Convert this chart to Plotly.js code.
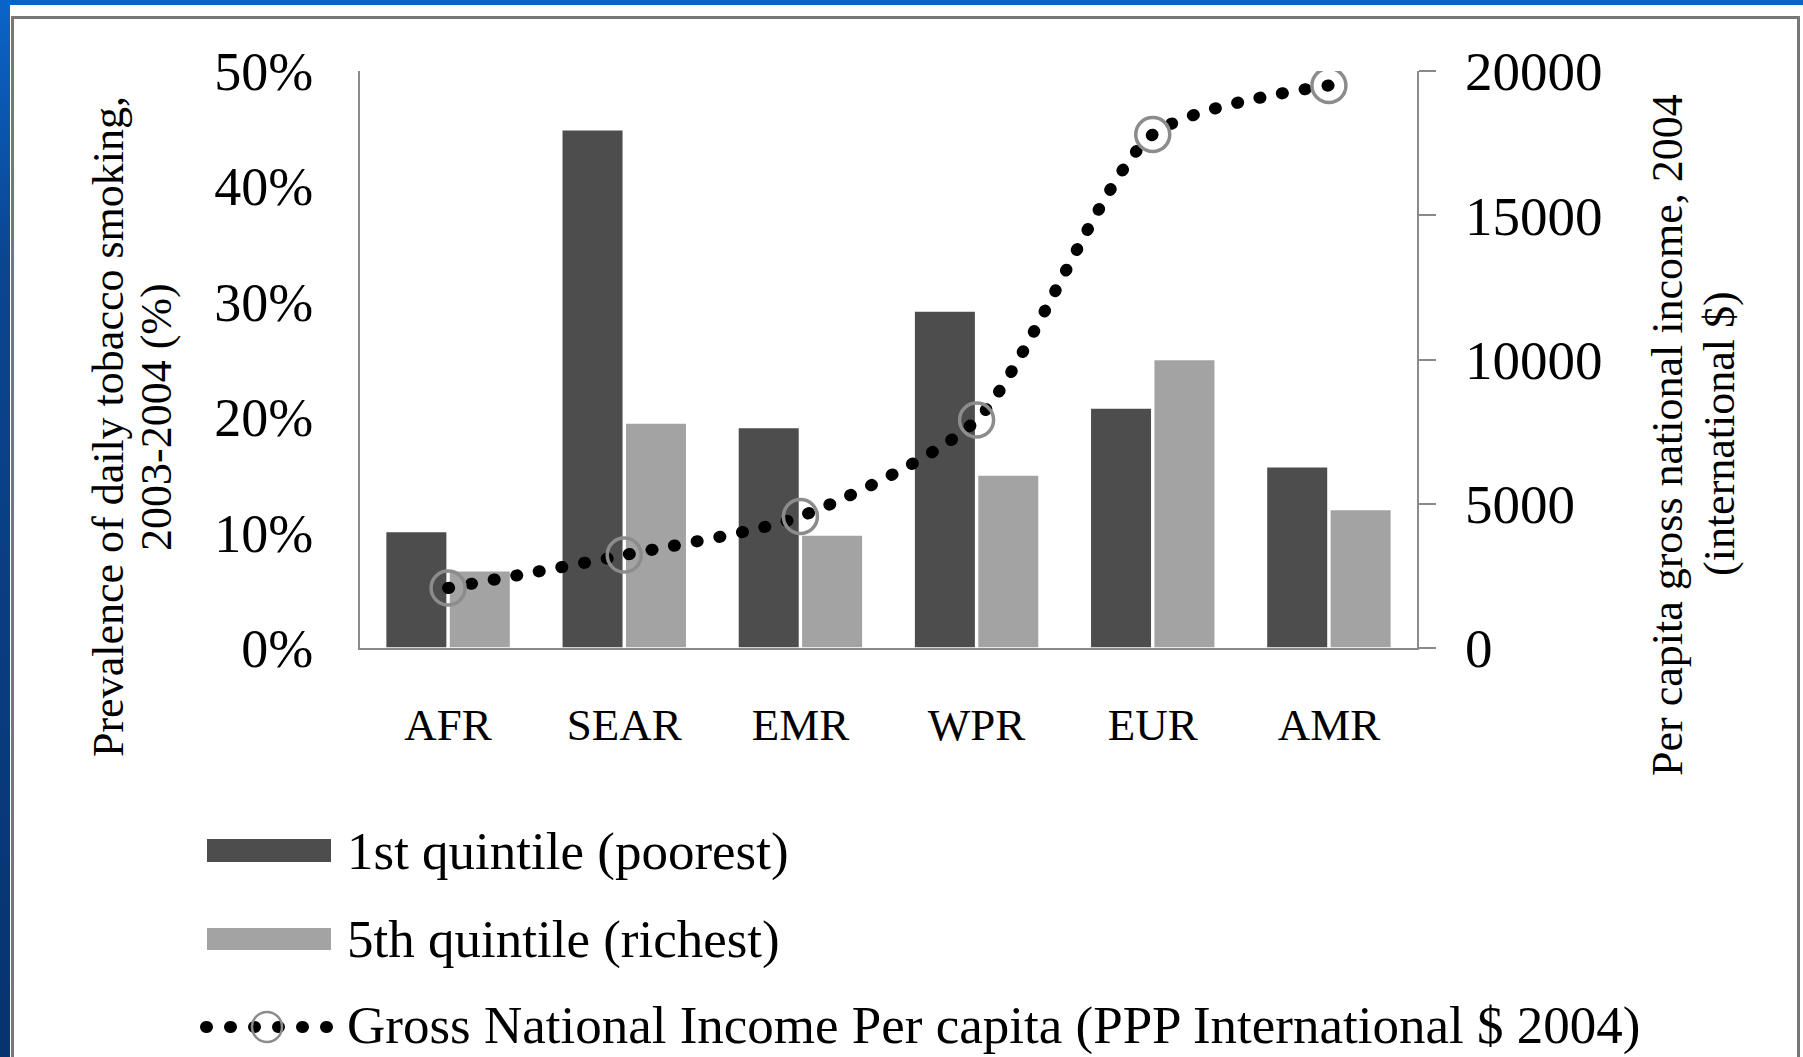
<!DOCTYPE html>
<html><head><meta charset="utf-8">
<script src="https://cdn.plot.ly/plotly-3.0.1.min.js"></script>
<style>
html,body{margin:0;padding:0;width:1803px;height:1057px;overflow:hidden;background:#0a64c8;}
#left{position:absolute;left:0;top:0;width:10px;height:1057px;background:linear-gradient(#0a64c8,#0b4590 25%,#07336f);}
#white{position:absolute;left:10px;top:5px;width:1793px;height:1052px;background:#fff;}
#border{position:absolute;left:11px;top:16px;width:1789px;height:1060px;border:3px solid #777;box-sizing:border-box;}
#chart{position:absolute;left:0;top:0;width:1803px;height:1057px;}
.scatterlayer .js-line{stroke-linecap:round;}
.shapelayer path{stroke-linecap:round;}
</style></head>
<body>
<div id="left"></div><div id="white"></div><div id="border"></div>
<div id="chart"></div>
<script>
const categories = ['AFR','SEAR','EMR','WPR','EUR','AMR'];
const poorest = [10.1, 44.9, 19.1, 29.2, 20.8, 15.7];
const richest = [6.7, 19.5, 9.8, 15.0, 25.0, 12.0];
const gni = [2080, 3220, 4560, 7900, 17800, 19500];
const seriesNames = ['1st quintile (poorest)', '5th quintile (richest)', 'Gross National Income Per capita (PPP International $ 2004)'];
const leftTicks = [0, 10, 20, 30, 40, 50];
const rightTicks = [0, 5000, 10000, 15000, 20000];
const leftTitle = ['Prevalence of daily tobacco smoking,', '2003-2004 (%)'];
const rightTitle = ['Per capita gross national income, 2004', '(international $)'];

const W = 1803, H = 1057, ML = 360, MR = 386, MT = 71, MB = 409;
const PW = W - ML - MR, PH = H - MT - MB;
const px = x => (x - ML) / PW;
const py = y => 1 - (y - MT) / PH;
const FONT = 'Liberation Serif, Times New Roman, serif';
const DARK = '#4d4d4d', LIGHT = '#a3a3a3', AX = '#8a8a8a';

const traces = [
  {type:'bar', name:seriesNames[0], x:categories, y:poorest,
   marker:{color:DARK, line:{color:'#ffffff', width:1.5}}},
  {type:'bar', name:seriesNames[1], x:categories, y:richest,
   marker:{color:LIGHT, line:{color:'#ffffff', width:1.5}}},
  {type:'scatter', name:seriesNames[2], x:categories, y:gni, yaxis:'y2',
   mode:'lines+markers',
   line:{color:'#000', width:12, dash:'1px,22px', shape:'spline', smoothing:0.7},
   marker:{symbol:'circle', size:34, color:'rgba(255,255,255,0)', line:{color:'#8c8c8c', width:3.5}}}
];

const ann = [];
function addText(text, x, y, size, opts) {
  ann.push(Object.assign({text:text, xref:'paper', yref:'paper', x:px(x), y:py(y),
    showarrow:false, font:{family:FONT, size:size, color:'#000'}, xanchor:'center', yanchor:'middle'}, opts||{}));
}
addText(leftTitle[0], 108, 427, 44, {textangle:-90});
addText(leftTitle[1], 156, 417, 44, {textangle:-90});
addText(rightTitle[0], 1667, 435, 44, {textangle:-90});
addText(rightTitle[1], 1719, 434, 44, {textangle:-90});
addText(seriesNames[0], 345, 851, 53, {xanchor:'left'});
addText(seriesNames[1], 345, 939, 53, {xanchor:'left'});
addText(seriesNames[2], 345, 1025, 53, {xanchor:'left'});

const shapes = [
  {type:'rect', xref:'paper', yref:'paper', x0:px(207), x1:px(331), y0:py(839), y1:py(862), fillcolor:DARK, line:{width:0}},
  {type:'rect', xref:'paper', yref:'paper', x0:px(207), x1:px(331), y0:py(928), y1:py(950), fillcolor:LIGHT, line:{width:0}},
  {type:'line', xref:'paper', yref:'paper', x0:px(206), x1:px(327), y0:py(1027), y1:py(1027), line:{color:'#000', width:12, dash:'1px,23px'}},
  {type:'circle', xref:'paper', yref:'paper', x0:px(252), x1:px(282), y0:py(1012), y1:py(1042), line:{color:'#8c8c8c', width:2.5}}
];

const layout = {
  width:W, height:H, margin:{l:ML, r:MR, t:MT, b:MB, pad:0},
  paper_bgcolor:'rgba(0,0,0,0)', plot_bgcolor:'rgba(0,0,0,0)',
  showlegend:false, barmode:'group', bargap:0.28, bargroupgap:0.03,
  font:{family:FONT, color:'#000'},
  xaxis:{type:'category', showline:true, linecolor:AX, linewidth:2, ticks:'',
    tickfont:{family:FONT, size:45, color:'#000'}, ticklabelstandoff:36, showgrid:false, zeroline:false},
  yaxis:{range:[0,50], tickvals:leftTicks, ticktext:leftTicks.map(v => v + '%'),
    showline:true, linecolor:AX, linewidth:2, ticks:'',
    tickfont:{family:FONT, size:54, color:'#000'}, ticklabelstandoff:34, showgrid:false, zeroline:false},
  yaxis2:{overlaying:'y', side:'right', range:[0,20000], tickvals:rightTicks, ticktext:rightTicks.map(String),
    showline:true, linecolor:AX, linewidth:2, ticks:'outside', ticklen:17, tickwidth:2, tickcolor:AX,
    tickfont:{family:FONT, size:55, color:'#000'}, ticklabelstandoff:18, showgrid:false, zeroline:false},
  annotations:ann, shapes:shapes
};

Plotly.newPlot('chart', traces, layout, {displayModeBar:false, staticPlot:true});
</script>
</body></html>
